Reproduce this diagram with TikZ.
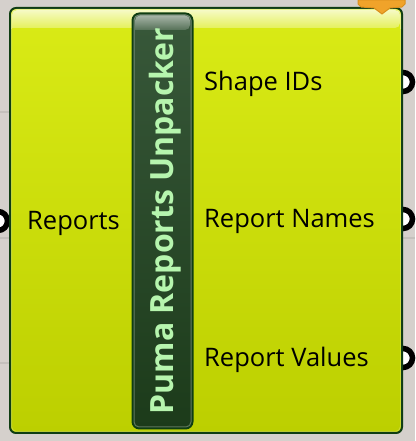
\documentclass[tikz,border=0pt]{standalone}
\usepackage{fontspec}
\setmainfont{Open Sans}
\usetikzlibrary{positioning}
\definecolor{bgrey}{HTML}{D5D0CC}
\definecolor{gridgrey}{HTML}{C4C0BC}
\definecolor{bodyedge}{HTML}{0F3D12}
\definecolor{bodytop}{HTML}{DAEB16}
\definecolor{bodybot}{HTML}{BCCF00}
\definecolor{captop}{HTML}{38583A}
\definecolor{capbot}{HTML}{1C3B1A}
\definecolor{captext}{HTML}{B6F5AE}
\definecolor{tagfill}{HTML}{F0A32A}
\definecolor{tagedge}{HTML}{D98F1C}
\begin{document}
\begin{tikzpicture}[
    x=1pt, y=1pt,
    every node/.style={font=\fontsize{25.5pt}{28pt}\selectfont, inner sep=0pt},
    compbody/.style={rectangle, rounded corners=6pt, draw=bodyedge, line width=2pt,
        top color=bodytop, bottom color=bodybot,
        minimum width=392pt, minimum height=425pt},
    capsule/.style={rectangle, rounded corners=7pt, draw=bodyedge, line width=2pt,
        top color=captop, bottom color=capbot,
        minimum width=60pt, minimum height=415pt},
    grip/.style={circle, draw=black, line width=5.5pt, fill=white, minimum size=19pt},
    lbl/.style={anchor=west, text=black},
    gridline/.style={gridgrey, line width=1.5pt},
]
    \useasboundingbox (0,0) rectangle (415,441);
    \fill[bgrey] (0,0) rectangle (415,441);
    \draw[gridline] (0,329) -- (10,329);
    \draw[gridline] (0,203) -- (10,203);
    \draw[gridline] (0,78) -- (10,78);
    \draw[gridline] (402,203) -- (415,203);

    % grips sit under the body edge
    \node[grip] (repin) at (-2,220) {};
    \node[grip] (shapeout) at (403,359) {};
    \node[grip] (namesout) at (403,222) {};
    \node[grip] (valuesout) at (403,83) {};

    \node[compbody] (body) at (206,220.5) {};
    % glossy band along the top
    \shade[top color=white!75!bodytop, bottom color=white!30!bodytop, rounded corners=5pt]
        (12,413) -- (12,431) -- (400,431) -- (400,413) [sharp corners] -- cycle;
    \draw[white, opacity=.45, line width=1pt, rounded corners=5pt]
        (11.5,412) -- (11.5,431.5) -- (400.5,431.5) -- (400.5,412);
    \draw[white, opacity=.2, line width=1pt, rounded corners=5pt]
        (11.5,412) -- (11.5,9.5) -- (400.5,9.5) -- (400.5,412);

    \fill[tagfill, draw=tagedge, line width=1pt] (358,441) -- (358,437) -- (361,434) -- (374,433)
        -- (382,427) -- (390,433) -- (402,434) -- (405,437) -- (405,441) -- cycle;

    \node[capsule] (cap) at (162.5,220) {};
    \shade[top color=white!55!captop, bottom color=white!15!captop, rounded corners=5pt]
        (135,411) -- (135,425.5) -- (190,425.5) -- (190,411) [sharp corners] -- cycle;
    \draw[white, opacity=.3, line width=1pt, rounded corners=5pt]
        (134,14) rectangle (191,426);
    \node[rotate=90, text=captext, font=\fontsize{32pt}{34pt}\selectfont\bfseries] (title)
        at (165,220) {Puma Reports Unpacker};

    \node[lbl] (replbl) at (27,218) {Reports};
    \node[lbl] (shapelbl) at (204,357) {Shape IDs};
    \node[lbl] (nameslbl) at (204,220) {Report Names};
    \node[lbl] (valueslbl) at (204,81) {Report Values};
\end{tikzpicture}
\end{document}
